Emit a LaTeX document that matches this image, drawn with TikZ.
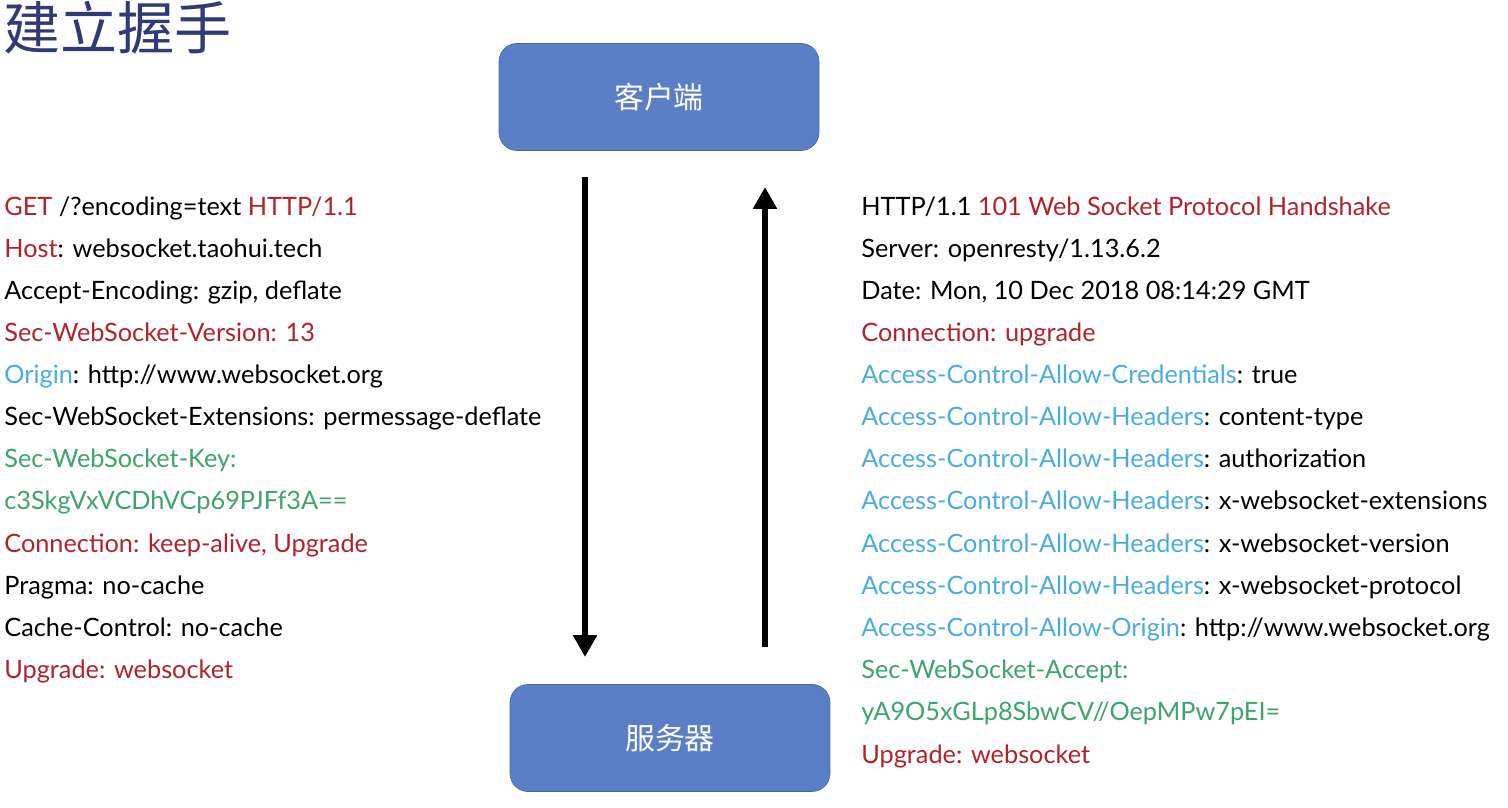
\documentclass[tikz,border=0pt]{standalone}
\usepackage{fontspec}
\setmainfont{Lato}
\newfontfamily\cjkfont{Noto Sans CJK SC}
\usetikzlibrary{positioning,arrows.meta,calc}

\definecolor{hdrred}{RGB}{176,35,42}
\definecolor{hdrblue}{RGB}{74,172,222}
\definecolor{hdrgreen}{RGB}{62,164,106}
\definecolor{titlenavy}{RGB}{48,58,116}
\definecolor{boxfill}{RGB}{91,127,199}
\definecolor{boxedge}{RGB}{72,104,168}

\newcommand{\hred}[1]{\textcolor{hdrred}{#1}}
\newcommand{\hblue}[1]{\textcolor{hdrblue}{#1}}
\newcommand{\hgreen}[1]{\textcolor{hdrgreen}{#1}}

\tikzset{
  hline/.style={anchor=base west, inner sep=0pt, font=\fontsize{14.4}{16}\selectfont},
  peer/.style={draw=boxedge, fill=boxfill, rounded corners=0.36cm, minimum width=6.4cm,
    minimum height=2.14cm, text=white, font=\cjkfont\fontsize{17}{20}\selectfont},
  flow/.style={line width=0.12cm, -{Triangle[width=0.46cm,length=0.44cm]}}
}

\begin{document}
\begin{tikzpicture}[x=0.02cm, y=-0.02cm]
    \useasboundingbox (0,0) rectangle (1508,808);

    % Titel
    \node[anchor=base west, inner sep=0pt, text=titlenavy, font=\cjkfont\fontsize{32.5}{36}\selectfont] (title) at (3,50) {建立握手};

    % Client und Server
    \node[peer] (client) at (659,97) {客户端};
    \node[peer] (server) at (670,738) {服务器};

    % Pfeile
    \coordinate (reqtop) at (585,177);
    \coordinate (reqend) at (585,657);
    \coordinate (resbot) at (765,647);
    \coordinate (restop) at (765,187);
    \draw[flow] (reqtop) -- (reqend);
    \draw[flow] (resbot) -- (restop);

    % Request
    \node[hline] (q1) at (4,215) {\hred{GET} /?encoding=text \hred{HTTP/1.1}};
    \node[hline] (q2) at (4,257) {\hred{Host}: websocket.taohui.tech};
    \node[hline] (q3) at (4,299) {Accept-Encoding: gzip, deflate};
    \node[hline] (q4) at (4,341) {\hred{Sec-WebSocket-Version: 13}};
    \node[hline] (q5) at (4,383) {\hblue{Origin}: http://www.websocket.org};
    \node[hline] (q6) at (4,425) {Sec-WebSocket-Extensions: permessage-deflate};
    \node[hline] (q7) at (4,467) {\hgreen{Sec-WebSocket-Key:}};
    \node[hline] (q8) at (4,509) {\hgreen{c3SkgVxVCDhVCp69PJFf3A==}};
    \node[hline] (q9) at (4,552) {\hred{Connection: keep-alive, Upgrade}};
    \node[hline] (q10) at (4,594) {Pragma: no-cache};
    \node[hline] (q11) at (4,636) {Cache-Control: no-cache};
    \node[hline] (q12) at (4,678) {\hred{Upgrade: websocket}};

    % Response
    \node[hline] (s1) at (861,215) {HTTP/1.1 \hred{101 Web Socket Protocol Handshake}};
    \node[hline] (s2) at (861,257) {Server: openresty/1.13.6.2};
    \node[hline] (s3) at (861,299) {Date: Mon, 10 Dec 2018 08:14:29 GMT};
    \node[hline] (s4) at (861,341) {\hred{Connection: upgrade}};
    \node[hline] (s5) at (861,383) {\hblue{Access-Control-Allow-Credentials}: true};
    \node[hline] (s6) at (861,425) {\hblue{Access-Control-Allow-Headers}: content-type};
    \node[hline] (s7) at (861,467) {\hblue{Access-Control-Allow-Headers}: authorization};
    \node[hline] (s8) at (861,509) {\hblue{Access-Control-Allow-Headers}: x-websocket-extensions};
    \node[hline] (s9) at (861,552) {\hblue{Access-Control-Allow-Headers}: x-websocket-version};
    \node[hline] (s10) at (861,594) {\hblue{Access-Control-Allow-Headers}: x-websocket-protocol};
    \node[hline] (s11) at (861,636) {\hblue{Access-Control-Allow-Origin}: http://www.websocket.org};
    \node[hline] (s12) at (861,678) {\hgreen{Sec-WebSocket-Accept:}};
    \node[hline] (s13) at (861,720) {\hgreen{yA9O5xGLp8SbwCV//OepMPw7pEI=}};
    \node[hline] (s14) at (861,763) {\hred{Upgrade: websocket}};
\end{tikzpicture}
\end{document}
